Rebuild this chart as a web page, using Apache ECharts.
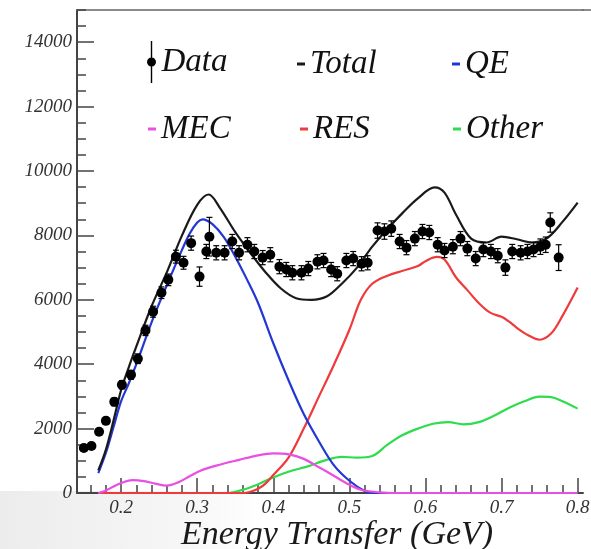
<!DOCTYPE html>
<html><head><meta charset="utf-8">
<script src="https://cdn.jsdelivr.net/npm/echarts@6/dist/echarts.min.js"></script>
<style>html,body{margin:0;padding:0;background:#fff}#c{width:591px;height:549px}</style>
</head><body><div id="c"></div>
<script>
// ---- Data points ----
const dataX = [0.151,0.161,0.171,0.180,0.191,0.201,0.213,0.222,0.232,0.242,0.253,0.262,0.272,0.282,0.292,0.303,0.312,0.316,0.325,0.336,0.346,0.355,0.366,0.375,0.386,0.396,0.408,0.417,0.425,0.437,0.446,0.458,0.466,0.476,0.484,0.496,0.505,0.516,0.524,0.537,0.546,0.555,0.566,0.575,0.586,0.596,0.605,0.616,0.625,0.636,0.646,0.655,0.666,0.676,0.686,0.695,0.705,0.714,0.725,0.734,0.742,0.751,0.758,0.764,0.775];
const dataY = [1400,1460,1900,2240,2830,3360,3670,4170,5050,5630,6220,6620,7340,7150,7760,6720,7500,7960,7460,7460,7810,7460,7710,7500,7310,7400,7030,6940,6840,6840,6970,7180,7220,6940,6810,7220,7280,7120,7150,8150,8120,8210,7810,7620,7900,8120,8090,7710,7530,7650,7900,7590,7280,7560,7500,7370,7000,7500,7460,7500,7560,7650,7710,8400,7310];
const dataErr = [90,90,100,110,120,130,140,150,160,170,180,180,200,200,220,300,220,600,220,220,220,220,220,220,220,220,220,220,220,220,220,220,220,220,220,220,220,220,220,240,240,240,220,220,220,220,220,220,220,220,220,220,220,220,220,220,240,220,220,220,220,240,240,300,400];

// ---- Model curves ----
const totalX = [0.17,0.18,0.19,0.20,0.21,0.22,0.24,0.26,0.28,0.30,0.315,0.33,0.35,0.37,0.39,0.41,0.43,0.45,0.47,0.49,0.51,0.53,0.55,0.57,0.59,0.612,0.625,0.64,0.66,0.68,0.70,0.72,0.74,0.76,0.78,0.80];
const totalY = [700,1350,2250,3200,3900,4550,5800,6850,8000,8950,9270,8850,8100,7450,6850,6350,6050,6000,6100,6500,7000,7650,8200,8700,9150,9490,9330,8650,7900,7780,7960,7880,7780,7920,8420,9020];

const qeX = [0.17,0.18,0.19,0.20,0.21,0.22,0.24,0.26,0.28,0.29,0.30,0.307,0.32,0.335,0.35,0.365,0.38,0.40,0.42,0.44,0.46,0.48,0.50,0.52,0.53,0.56,0.60,0.65,0.70,0.75,0.80];
const qeY = [620,1250,2050,2850,3400,4000,5300,6450,7550,8050,8400,8500,8350,7950,7340,6650,5900,4650,3500,2450,1600,850,380,60,0,0,0,0,0,0,0];

const mecX = [0.17,0.18,0.19,0.20,0.215,0.23,0.245,0.26,0.275,0.29,0.305,0.325,0.355,0.38,0.40,0.42,0.44,0.46,0.475,0.495,0.515,0.54,0.56,0.60,0.65,0.70,0.75,0.80];
const mecY = [0,80,200,310,400,370,290,230,330,520,700,850,1030,1170,1230,1200,1060,800,600,320,100,20,0,0,0,0,0,0];

const resX = [0.17,0.25,0.36,0.37,0.38,0.39,0.40,0.42,0.44,0.46,0.48,0.50,0.515,0.53,0.55,0.57,0.59,0.60,0.615,0.625,0.64,0.655,0.67,0.685,0.70,0.71,0.72,0.735,0.75,0.765,0.78,0.80];
const resY = [0,0,0,40,130,300,560,1100,2000,3000,4000,5070,6000,6500,6750,6900,7050,7200,7330,7250,6700,6300,5900,5600,5470,5320,5130,4900,4760,4950,5500,6380];

const otherX = [0.17,0.25,0.34,0.36,0.378,0.39,0.408,0.425,0.443,0.47,0.49,0.51,0.53,0.55,0.57,0.59,0.61,0.63,0.65,0.67,0.69,0.71,0.73,0.75,0.765,0.78,0.80];
const otherY = [0,0,0,100,250,380,560,700,810,1030,1120,1100,1150,1500,1800,2000,2150,2200,2130,2200,2400,2650,2850,2990,2980,2850,2620];

// ---- Ticks ----
const xMajorTicks = [0.2,0.3,0.4,0.5,0.6,0.7,0.8];
const xMinorTicks = [0.16,0.18,0.20,0.22,0.24,0.26,0.28,0.30,0.32,0.34,0.36,0.38,0.40,0.42,0.44,0.46,0.48,0.50,0.52,0.54,0.56,0.58,0.60,0.62,0.64,0.66,0.68,0.70,0.72,0.74,0.76,0.78,0.80];
const yMajorTicks = [0,2000,4000,6000,8000,10000,12000,14000];
const yMinorTicks = [500,1000,1500,2000,2500,3000,3500,4000,4500,5000,5500,6000,6500,7000,7500,8000,8500,9000,9500,10000,10500,11000,11500,12000,12500,13000,13500,14000,14500,15000];

const FONT = "'Liberation Serif', 'DejaVu Serif', serif";
const X_MIN = 0.142, X_MAX = 0.807, Y_MIN = 0, Y_MAX = 15000;
const AX = '#444';
const pairs = (xs, ys) => xs.map((x, i) => [x, ys[i]]);

const chart = echarts.init(document.getElementById('c'), null, {renderer: 'canvas'});

const legendText = (pad) => ({fontFamily: FONT, fontStyle: 'italic', fontSize: 33, color: '#111', lineHeight: 34, padding: pad || 0});
function leg(name, left, top, icon, w, h, pad) {
  return {data: [{name: name, icon: icon}], left: left, top: top, itemWidth: w, itemHeight: h,
    padding: 0, itemGap: 0, selectedMode: false, textStyle: legendText(pad)};
}
const dataIcon = 'path://M4.3,0 L5.7,0 L5.7,42 L4.3,42 Z M0.5,21 C0.5,18.5 2.5,16.5 5,16.5 C7.5,16.5 9.5,18.5 9.5,21 C9.5,23.5 7.5,25.5 5,25.5 C2.5,25.5 0.5,23.5 0.5,21 Z';

const lineSeries = (name, xs, ys, color, z) => ({
  name: name, type: 'line', data: pairs(xs, ys), showSymbol: false, smooth: 0.35,
  color: color, itemStyle: {color: color}, lineStyle: {color: color, width: 2.2}, z: z
});

const option = {
  animation: false,
  backgroundColor: '#fff',
  graphic: [
    {type: 'rect', z: -10, silent: true, shape: {x: 0, y: 491, width: 591, height: 58},
      style: {fill: new echarts.graphic.LinearGradient(0, 0, 1, 0, [{offset: 0, color: '#ececec'}, {offset: 0.3, color: '#f6f6f6'}, {offset: 0.45, color: '#ffffff'}])}},
    {type: 'line', silent: true, shape: {x1: 582, y1: 10, x2: 591, y2: 10}, style: {stroke: '#666', lineWidth: 1.5}}
  ],
  grid: {left: 77, right: 8, top: 10, bottom: 56, containLabel: false, outerBoundsMode: 'none'},
  legend: [
    leg('Data', 147, 41, dataIcon, 10, 42, [4, 0, 0, 0]),
    leg('Total', 297, 47, 'rect', 8, 3),
    leg('QE', 452, 47, 'rect', 8, 3),
    leg('MEC', 148, 112, 'rect', 8, 3),
    leg('RES', 300, 112, 'rect', 8, 3),
    leg('Other', 453, 112, 'rect', 8, 3)
  ],
  xAxis: [
    {type: 'value', position: 'bottom', min: X_MIN, max: X_MAX,
      axisLine: {lineStyle: {color: AX, width: 2}},
      axisTick: {inside: true, length: 15, customValues: xMajorTicks, lineStyle: {color: AX, width: 1.5}},
      axisLabel: {customValues: xMajorTicks, formatter: v => v.toFixed(1), fontFamily: FONT, fontStyle: 'italic', fontSize: 19, color: '#333', margin: 5},
      splitLine: {show: false},
      name: 'Energy Transfer (GeV)', nameLocation: 'middle', nameGap: 25, nameMoveOverlap: false,
      nameTextStyle: {fontFamily: FONT, fontStyle: 'italic', fontSize: 34, color: '#1a1a1a', padding: [0, 0, 0, 14]}},
    {type: 'value', position: 'bottom', min: X_MIN, max: X_MAX,
      axisLine: {show: false},
      axisTick: {inside: true, length: 8, customValues: xMinorTicks, lineStyle: {color: AX, width: 1.5}},
      axisLabel: {show: false}, splitLine: {show: false}},
    {type: 'value', position: 'top', min: X_MIN, max: X_MAX,
      axisLine: {lineStyle: {color: '#666', width: 1.5}},
      axisTick: {show: false}, axisLabel: {show: false}, splitLine: {show: false}}
  ],
  yAxis: [
    {type: 'value', position: 'left', min: Y_MIN, max: Y_MAX,
      axisLine: {show: true, lineStyle: {color: AX, width: 2}},
      axisTick: {show: true, inside: true, length: 17, customValues: yMajorTicks, lineStyle: {color: AX, width: 1.5}},
      axisLabel: {customValues: yMajorTicks, formatter: v => String(v), fontFamily: FONT, fontStyle: 'italic', fontSize: 19, color: '#333', margin: 5},
      splitLine: {show: false}},
    {type: 'value', position: 'left', min: Y_MIN, max: Y_MAX,
      axisLine: {show: false},
      axisTick: {show: true, inside: true, length: 9, customValues: yMinorTicks, lineStyle: {color: AX, width: 1.5}},
      axisLabel: {show: false}, splitLine: {show: false}}
  ],
  series: [
    {name: 'Data', type: 'scatter', data: pairs(dataX, dataY), symbol: 'circle', symbolSize: 10,
      itemStyle: {color: '#000', opacity: 1}, color: '#000', z: 6},
    {name: 'Data', type: 'custom', color: '#000', itemStyle: {color: '#000'}, z: 5,
      data: dataX.map((x, i) => [x, dataY[i] - dataErr[i], dataY[i] + dataErr[i]]),
      encode: {x: 0, y: [1, 2]},
      renderItem: function (params, api) {
        const lo = api.coord([api.value(0), api.value(1)]);
        const hi = api.coord([api.value(0), api.value(2)]);
        const cw = 3;
        const st = {stroke: '#000', lineWidth: 1.2};
        return {type: 'group', children: [
          {type: 'line', shape: {x1: lo[0], y1: lo[1], x2: hi[0], y2: hi[1]}, style: st},
          {type: 'line', shape: {x1: lo[0] - cw, y1: lo[1], x2: lo[0] + cw, y2: lo[1]}, style: st},
          {type: 'line', shape: {x1: hi[0] - cw, y1: hi[1], x2: hi[0] + cw, y2: hi[1]}, style: st}
        ]};
      }},
    lineSeries('Other', otherX, otherY, '#2fdc4c', 2),
    lineSeries('RES', resX, resY, '#ee3a3a', 2),
    lineSeries('QE', qeX, qeY, '#2337d6', 2),
    lineSeries('MEC', mecX, mecY, '#ea4fe2', 2),
    lineSeries('Total', totalX, totalY, '#1a1a1a', 3)
  ]
};
chart.setOption(option);
</script>
</body></html>
